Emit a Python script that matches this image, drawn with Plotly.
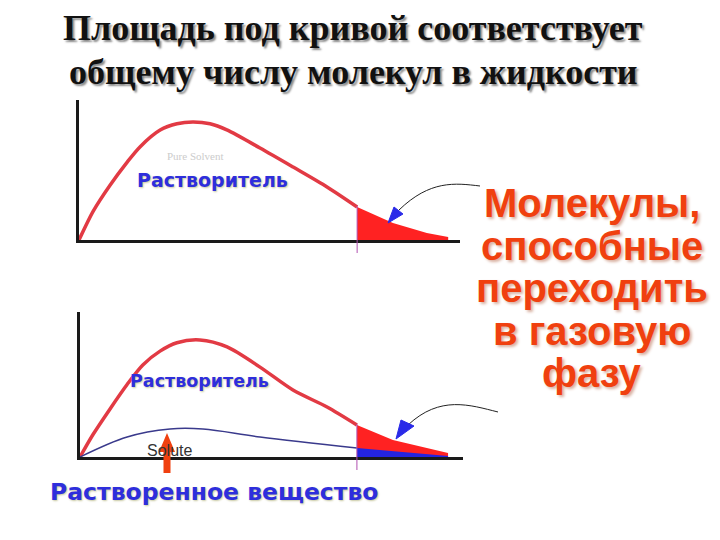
import plotly.graph_objects as go

# ---------------- data (arbitrary units: x = molecular energy, y = number of molecules) ----------------
solvent_top_x = [0, 3.7, 8.1, 12.6, 16.0, 21.3, 25.7, 29.9, 34.4, 38.8, 47.5, 56.2, 65.1, 73.0, 82.4, 91.3, 96.9]
solvent_top_y = [0, 20.5, 39.0, 55.5, 66.5, 78.5, 83.0, 84.3, 83.0, 78.6, 65.7, 52.1, 37.9, 23.6, 12.1, 5.0, 2.1]

solvent_bot_x = [0, 3.4, 7.8, 12.3, 16.4, 20.9, 25.3, 31.3, 38.4, 47.0, 55.6, 64.5, 72.3, 81.7, 96.1]
solvent_bot_y = [0, 15.5, 33.0, 50.0, 63.5, 73.0, 78.8, 80.7, 75.9, 62.0, 46.2, 34.5, 22.1, 11.7, 2.8]

solute_x = [0, 12.3, 23.5, 32.1, 47.0, 72.3, 96.1]
solute_y = [0, 13.8, 19.3, 19.3, 13.8, 6.2, 0.7]

threshold_top = 73.0
threshold_bot = 72.3

title_lines = ["Площадь под кривой соответствует", "общему числу молекул в жидкости"]
side_lines = ["Молекулы,", "способные", "переходить", "в газовую", "фазу"]
label_solvent = "Растворитель"
label_solute = "Растворенное вещество"

RED_LINE = "#e23a44"
RED_FILL = "#ff2222"
BLUE_LINE = "#3a3a8c"
BLUE_FILL = "#2424e0"
BLUE_TEXT = "#2e2edc"
ORANGE = "#f0400f"


def px(x):
    return x / 720.0


def py(y):
    return 1 - y / 540.0


def upto(xs, ys, thr):
    cx = [x for x in xs if x <= thr]
    return cx, ys[:len(cx)]


def tail(xs, ys, thr):
    """points of curve at/after threshold, for the filled area"""
    fx, fy = [], []
    for i in range(len(xs) - 1):
        x0, x1, y0, y1 = xs[i], xs[i + 1], ys[i], ys[i + 1]
        if x0 <= thr <= x1:
            t = (thr - x0) / (x1 - x0) if x1 != x0 else 0
            fx.append(thr)
            fy.append(y0 + t * (y1 - y0))
            break
    for x, y in zip(xs, ys):
        if x > thr:
            fx.append(x)
            fy.append(y)
    return [thr] + fx + [fx[-1], thr], [0] + fy + [0, 0]


fig = go.Figure()

# --- top panel ---
tx, ty = tail(solvent_top_x, solvent_top_y, threshold_top)
fig.add_trace(go.Scatter(x=tx, y=ty, fill="toself", fillcolor=RED_FILL, mode="none",
                         xaxis="x", yaxis="y", showlegend=False, hoverinfo="skip"))
cx, cy = upto(solvent_top_x, solvent_top_y, threshold_top)
fig.add_trace(go.Scatter(x=cx, y=cy, mode="lines",
                         line=dict(color=RED_LINE, width=3.5, shape="spline", smoothing=0.8),
                         xaxis="x", yaxis="y", showlegend=False))

# --- bottom panel ---
bx, by = tail(solvent_bot_x, solvent_bot_y, threshold_bot)
fig.add_trace(go.Scatter(x=bx, y=by, fill="toself", fillcolor=RED_FILL, mode="none",
                         xaxis="x2", yaxis="y2", showlegend=False, hoverinfo="skip"))
sx, sy = tail(solute_x, solute_y, threshold_bot)
fig.add_trace(go.Scatter(x=sx, y=sy, fill="toself", fillcolor=BLUE_FILL, mode="none",
                         xaxis="x2", yaxis="y2", showlegend=False, hoverinfo="skip"))
cx, cy = upto(solvent_bot_x, solvent_bot_y, threshold_bot)
fig.add_trace(go.Scatter(x=cx, y=cy, mode="lines",
                         line=dict(color=RED_LINE, width=3.5, shape="spline", smoothing=0.8),
                         xaxis="x2", yaxis="y2", showlegend=False))
cx, cy = upto(solute_x, solute_y, threshold_bot)
fig.add_trace(go.Scatter(x=cx, y=cy, mode="lines",
                         line=dict(color=BLUE_LINE, width=1.5, shape="spline"),
                         xaxis="x2", yaxis="y2", showlegend=False))

axis_common = dict(range=[0, 100], showgrid=False, zeroline=False, showticklabels=False,
                   ticks="", showline=True, linewidth=3, linecolor="#1a1a1a", fixedrange=True)

shapes = []
# threshold markers
shapes.append(dict(type="line", xref="x", yref="paper", x0=threshold_top, x1=threshold_top,
                   y0=py(253), y1=py(206), line=dict(color="#b050b0", width=1)))
shapes.append(dict(type="line", xref="x2", yref="paper", x0=threshold_bot, x1=threshold_bot,
                   y0=py(470), y1=py(424), line=dict(color="#b050b0", width=1)))


def path(points, close=False):
    s = "M " + " L ".join(f"{px(a):.5f},{py(b):.5f}" for a, b in points)
    return s + (" Z" if close else "")


def cpath(p0, c1, c2, p1):
    return (f"M {px(p0[0]):.5f},{py(p0[1]):.5f} C {px(c1[0]):.5f},{py(c1[1]):.5f} "
            f"{px(c2[0]):.5f},{py(c2[1]):.5f} {px(p1[0]):.5f},{py(p1[1]):.5f}")


# connector curves
shapes.append(dict(type="path", xref="paper", yref="paper",
                   path=cpath((480, 186), (455, 183), (430, 180), (399, 210)),
                   line=dict(color="#222", width=1)))
shapes.append(dict(type="path", xref="paper", yref="paper",
                   path=cpath((498, 412), (470, 405), (440, 395), (408, 425)),
                   line=dict(color="#222", width=1)))
# blue arrowheads
shapes.append(dict(type="path", xref="paper", yref="paper",
                   path=path([(388, 223), (394, 207), (403, 214)], close=True),
                   fillcolor="#2a2ae8", line=dict(color="#2a2ae8", width=1)))
shapes.append(dict(type="path", xref="paper", yref="paper",
                   path=path([(396, 439), (401, 420), (414, 426)], close=True),
                   fillcolor="#2a2ae8", line=dict(color="#2a2ae8", width=1)))
# orange up arrow
shapes.append(dict(type="path", xref="paper", yref="paper",
                   path=path([(167, 433), (175, 452), (170.5, 452), (170.5, 473), (163.5, 473),
                              (163.5, 452), (159, 452)], close=True),
                   fillcolor=ORANGE, line=dict(color=ORANGE, width=0)))


def ann(text, x, y, font):
    return dict(text=text, x=px(x), y=py(y), xref="paper", yref="paper", showarrow=False,
                xanchor="center", yanchor="middle", font=font)


annotations = []
for i, line in enumerate(title_lines):
    annotations.append(ann(f"<b>{line}</b>", 353, 28 + 44 * i,
                           dict(family="Liberation Serif", size=36, color="#111",
                                shadow="2px 2px 2px #8a8a8a")))
for i, line in enumerate(side_lines):
    annotations.append(ann(f"<b>{line}</b>", 592, 203 + 42.5 * i,
                           dict(family="Liberation Sans", size=40, color=ORANGE,
                                shadow="2px 2px 3px #d8b0a0")))
# faint underlying english label
annotations.append(ann("Pure Solvent", 196, 156,
                       dict(family="Liberation Serif", size=11, color="#cccccc")))
annotations.append(ann("Solute", 169, 450,
                       dict(family="Liberation Sans", size=16, color="#333")))
# blue labels
annotations.append(ann(f"<b>{label_solvent}</b>", 212, 180,
                       dict(family="DejaVu Sans", size=19, color=BLUE_TEXT,
                            shadow="1px 1px 2px #c8c8a0")))
annotations.append(ann(f"<b>{label_solvent}</b>", 199, 381,
                       dict(family="DejaVu Sans", size=17.5, color=BLUE_TEXT,
                            shadow="1px 1px 2px #c8c8a0")))
annotations.append(ann(f"<b>{label_solute}</b>", 214, 492,
                       dict(family="DejaVu Sans", size=23.5, color=BLUE_TEXT,
                            shadow="1px 1px 2px #c8c8a0")))

fig.update_layout(
    width=720, height=540,
    margin=dict(l=0, r=0, t=0, b=0, autoexpand=False),
    paper_bgcolor="white", plot_bgcolor="rgba(0,0,0,0)",
    showlegend=False,
    xaxis=dict(domain=[px(79), px(460)], anchor="y", **axis_common),
    yaxis=dict(domain=[py(240), py(100)], anchor="x", **axis_common),
    xaxis2=dict(domain=[px(80), px(463)], anchor="y2", **axis_common),
    yaxis2=dict(domain=[py(457), py(312)], anchor="x2", **axis_common),
    shapes=shapes,
    annotations=annotations,
)

fig.write_html("out.html", config={"displayModeBar": False},
               post_script="document.body.style.margin='0';")
